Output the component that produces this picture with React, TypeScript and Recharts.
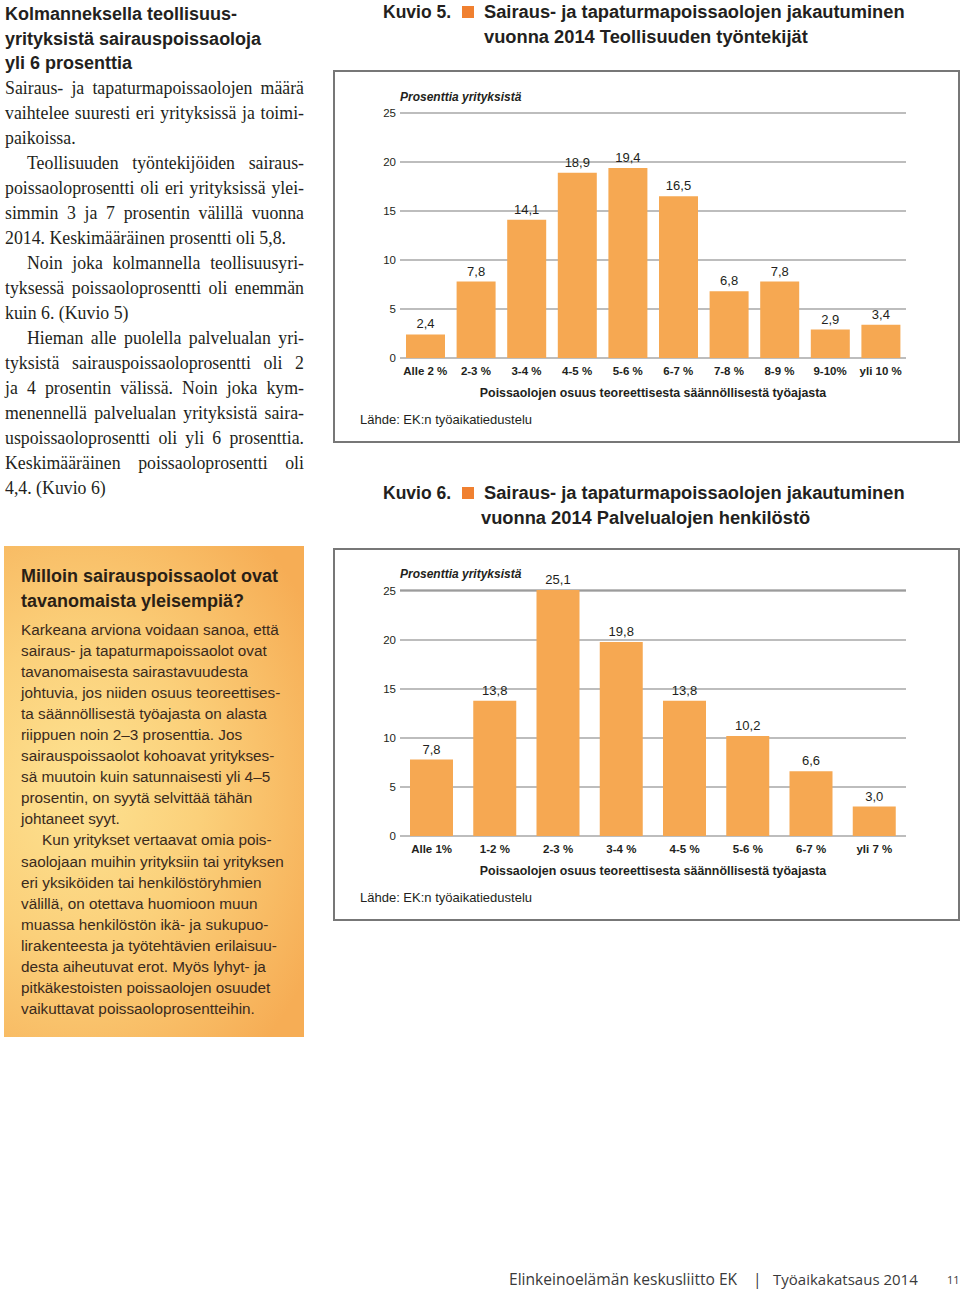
import React from "react";
import { BarChart, Bar, XAxis, YAxis, CartesianGrid, LabelList } from "recharts";

const industryCategories = ["Alle 2 %", "2-3 %", "3-4 %", "4-5 %", "5-6 %", "6-7 %", "7-8 %", "8-9 %", "9-10%", "yli 10 %"];
const industryValues = [2.4, 7.8, 14.1, 18.9, 19.4, 16.5, 6.8, 7.8, 2.9, 3.4];
const serviceCategories = ["Alle 1%", "1-2 %", "2-3 %", "3-4 %", "4-5 %", "5-6 %", "6-7 %", "yli 7 %"];
const serviceValues = [7.8, 13.8, 25.1, 19.8, 13.8, 10.2, 6.6, 3.0];
const yTicks = [0, 5, 10, 15, 20, 25];

const industryData = industryCategories.map((c, i) => ({ cat: c, v: industryValues[i] }));
const serviceData = serviceCategories.map((c, i) => ({ cat: c, v: serviceValues[i] }));

const SANS = "'Liberation Sans', Arial, Helvetica, sans-serif";
const SERIF = "'Liberation Serif', 'Times New Roman', serif";
const FOOT = "'Open Sans', 'Noto Sans', sans-serif";
const BAR = "#f6a852";
const GRID = "#7d7d7d";
const fmt = (v: any) => Number(v).toFixed(1).replace(".", ",");

const leftLines: [string, boolean, boolean][] = [
  ["Sairaus- ja tapaturmapoissaolojen määrä", true, false],
  ["vaihtelee suuresti eri yrityksissä ja toimi-", true, false],
  ["paikoissa.", false, false],
  ["Teollisuuden työntekijöiden sairaus-", true, true],
  ["poissaoloprosentti oli eri yrityksissä ylei-", true, false],
  ["simmin 3 ja 7 prosentin välillä vuonna", true, false],
  ["2014. Keskimääräinen prosentti oli 5,8.", false, false],
  ["Noin joka kolmannella teollisuusyri-", true, true],
  ["tyksessä poissaoloprosentti oli enemmän", true, false],
  ["kuin 6. (Kuvio 5)", false, false],
  ["Hieman alle puolella palvelualan yri-", true, true],
  ["tyksistä sairauspoissaoloprosentti oli 2", true, false],
  ["ja 4 prosentin välissä. Noin joka kym-", true, false],
  ["menennellä palvelualan yrityksistä saira-", true, false],
  ["uspoissaoloprosentti oli yli 6 prosenttia.", true, false],
  ["Keskimääräinen poissaoloprosentti oli", true, false],
  ["4,4. (Kuvio 6)", false, false],
];

const boxLines: [string, boolean][] = [
  ["Karkeana arviona voidaan sanoa, että", false],
  ["sairaus- ja tapaturmapoissaolot ovat", false],
  ["tavanomaisesta sairastavuudesta", false],
  ["johtuvia, jos niiden osuus teoreettises-", false],
  ["ta säännöllisestä työajasta on alasta", false],
  ["riippuen noin 2–3 prosenttia. Jos", false],
  ["sairauspoissaolot kohoavat yritykses-", false],
  ["sä muutoin kuin satunnaisesti yli 4–5", false],
  ["prosentin, on syytä selvittää tähän", false],
  ["johtaneet syyt.", false],
  ["Kun yritykset vertaavat omia pois-", true],
  ["saolojaan muihin yrityksiin tai yrityksen", false],
  ["eri yksiköiden tai henkilöstöryhmien", false],
  ["välillä, on otettava huomioon muun", false],
  ["muassa henkilöstön ikä- ja sukupuo-", false],
  ["lirakenteesta ja työtehtävien erilaisuu-", false],
  ["desta aiheutuvat erot. Myös lyhyt- ja", false],
  ["pitkäkestoisten poissaolojen osuudet", false],
  ["vaikuttavat poissaoloprosentteihin.", false],
];

const abs = (left: number, top: number, extra: React.CSSProperties = {}): React.CSSProperties => ({
  position: "absolute",
  left,
  top,
  ...extra,
});

function ChartTitle({ top, num, line1, line2, x2 }: { top: number; num: string; line1: string; line2: string; x2: number }) {
  const st: React.CSSProperties = { fontFamily: SANS, fontWeight: 700, fontSize: 18.3, color: "#231f20", whiteSpace: "nowrap", lineHeight: "24px" };
  return (
    <>
      <div style={abs(383, top, { ...st, fontSize: 17.5 })}>{num}</div>
      <div style={abs(462, top + 6, { width: 12, height: 12, background: "#f08030" })} />
      <div style={abs(484, top, st)}>{line1}</div>
      <div style={abs(x2, top + 25, st)}>{line2}</div>
    </>
  );
}

function HistChart({ data, barSize, top, marginTop }: { data: any[]; barSize: number; top: number; marginTop: number }) {
  return (
    <div style={abs(333, top, { width: 626, height: 372 })}>
      <BarChart width={626} height={372} data={data} margin={{ top: marginTop, right: 53, left: 0, bottom: 54 }}>
        <CartesianGrid vertical={false} stroke={GRID} strokeWidth={1.2} />
        <YAxis
          width={67}
          domain={[0, 25]}
          ticks={yTicks}
          interval={0}
          axisLine={false}
          tickLine={false}
          tickSize={0}
          tickMargin={4}
          tick={{ fontFamily: SANS, fontSize: 11.5, fill: "#231f20" }}
        />
        <XAxis
          dataKey="cat"
          height={30}
          interval={0}
          axisLine={false}
          tickLine={false}
          tickSize={0}
          tickMargin={9}
          tick={{ fontFamily: SANS, fontSize: 11.5, fontWeight: 700, fill: "#231f20" }}
          label={{
            value: "Poissaolojen osuus teoreettisesta säännöllisestä työajasta",
            position: "bottom",
            offset: 0,
            style: { fontFamily: SANS, fontSize: 12.4, fontWeight: 700, fill: "#231f20" },
          }}
        />
        <Bar dataKey="v" fill={BAR} barSize={barSize} isAnimationActive={false}>
          <LabelList dataKey="v" position="top" offset={6} formatter={fmt} style={{ fontFamily: SANS, fontSize: 13, fill: "#231f20" }} />
        </Bar>
      </BarChart>
      <div style={abs(67, marginTop - 23, { fontFamily: SANS, fontSize: 12, fontWeight: 700, fontStyle: "italic", color: "#231f20", whiteSpace: "nowrap" })}>
        Prosenttia yrityksistä
      </div>
      <div style={abs(27, 342, { fontFamily: SANS, fontSize: 13, color: "#231f20", whiteSpace: "nowrap" })}>
        Lähde: EK:n työaikatiedustelu
      </div>
    </div>
  );
}

export default function App() {
  return (
    <div style={{ position: "absolute", left: 0, top: 0, width: 960, height: 1289, background: "#fff", overflow: "hidden" }}>
      {/* Left headline */}
      <div style={abs(5, 2, { fontFamily: SANS, fontWeight: 700, fontSize: 18, lineHeight: "24.5px", color: "#231f20", whiteSpace: "nowrap" })}>
        <div>Kolmanneksella teollisuus-</div>
        <div>yrityksistä sairauspoissaoloja</div>
        <div>yli 6 prosenttia</div>
      </div>
      {/* Left body text */}
      <div style={abs(5, 75.5, { width: 299, fontFamily: SERIF, fontSize: 17.8, lineHeight: "25px", color: "#231f20" })}>
        {leftLines.map(([t, just, indent], i) => (
          <div
            key={i}
            style={{
              height: 25,
              overflow: "visible",
              textAlign: just ? "justify" : "left",
              textAlignLast: just ? "justify" : "left",
              paddingLeft: indent ? 22 : 0,
            }}
          >
            {t}
          </div>
        ))}
      </div>

      {/* Orange box */}
      <div
        style={abs(4, 546, {
          width: 300,
          height: 491,
          background: "radial-gradient(ellipse 90% 70% at 25% 50%, #fde291 0%, #fbd07a 45%, #f6ad55 100%)",
        })}
      />
      <div style={abs(21, 563.5, { fontFamily: SANS, fontWeight: 700, fontSize: 18, lineHeight: "25px", color: "#2a1f16", whiteSpace: "nowrap" })}>
        <div>Milloin sairauspoissaolot ovat</div>
        <div>tavanomaista yleisempiä?</div>
      </div>
      <div style={abs(21, 618.5, { fontFamily: SANS, fontSize: 15.3, lineHeight: "21.1px", color: "#3a2a1c", whiteSpace: "nowrap" })}>
        {boxLines.map(([t, indent], i) => (
          <div key={i} style={{ height: 21.1, paddingLeft: indent ? 21 : 0 }}>
            {t}
          </div>
        ))}
      </div>

      {/* Chart 1 */}
      <ChartTitle top={0} x2={484} num="Kuvio 5." line1="Sairaus- ja tapaturmapoissaolojen jakautuminen" line2="vuonna 2014 Teollisuuden työntekijät" />
      <div style={abs(333, 70, { width: 627, height: 373, boxSizing: "border-box", border: "2px solid #777" })} />
      <HistChart data={industryData} barSize={39} top={70} marginTop={43} />

      {/* Chart 2 */}
      <ChartTitle top={481} x2={481} num="Kuvio 6." line1="Sairaus- ja tapaturmapoissaolojen jakautuminen" line2="vuonna 2014 Palvelualojen henkilöstö" />
      <div style={abs(333, 548, { width: 627, height: 373, boxSizing: "border-box", border: "2px solid #777" })} />
      <HistChart data={serviceData} barSize={43} top={548} marginTop={42} />

      {/* Footer */}
      <div style={abs(509, 1268, { fontFamily: FOOT, fontSize: 15.6, color: "#3a3a3a", whiteSpace: "nowrap", lineHeight: "22px" })}>
        Elinkeinoelämän keskusliitto EK
      </div>
      <div style={abs(753, 1268, { fontFamily: FOOT, fontSize: 15.6, color: "#3a3a3a", lineHeight: "22px" })}>|</div>
      <div style={abs(773, 1268, { fontFamily: FOOT, fontSize: 15, color: "#3a3a3a", whiteSpace: "nowrap", lineHeight: "22px" })}>
        Työaikakatsaus 2014
      </div>
      <div style={abs(947, 1271, { fontFamily: FOOT, fontSize: 11, color: "#3a3a3a", lineHeight: "18px" })}>11</div>
    </div>
  );
}
